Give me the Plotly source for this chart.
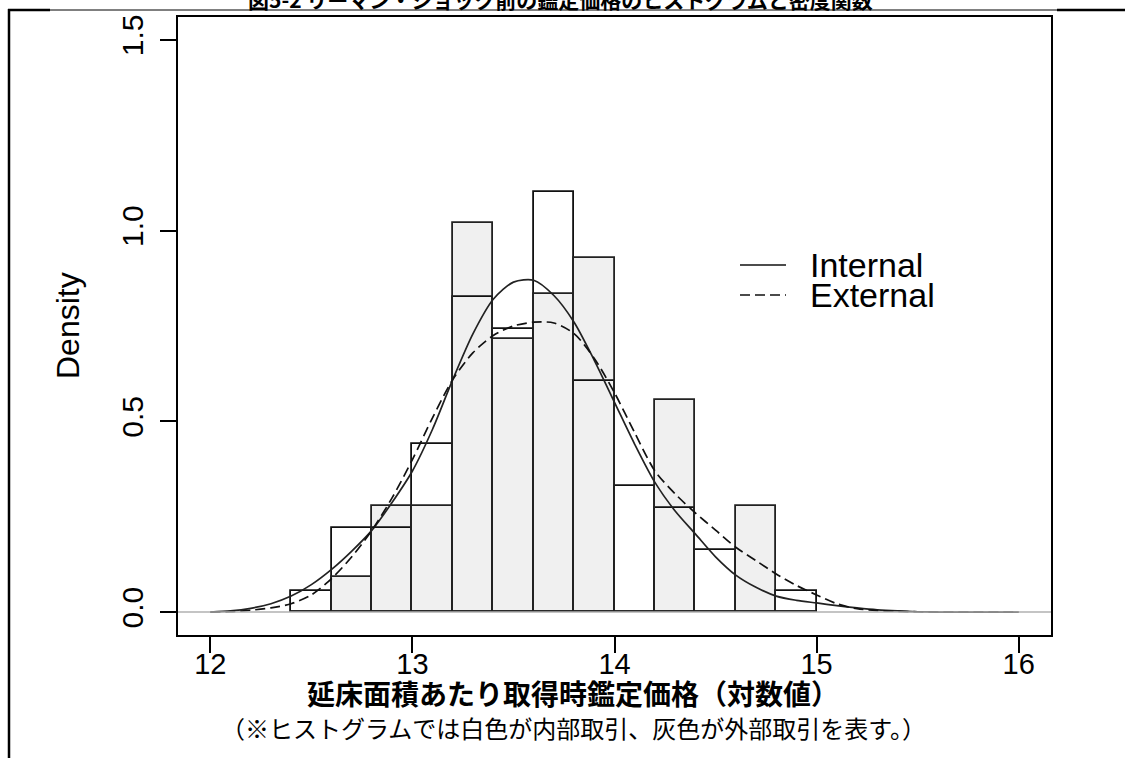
import plotly.graph_objects as go

# ---------------- data ----------------
bin_edges = [12.4, 12.6, 12.8, 13.0, 13.2, 13.4, 13.6, 13.8, 14.0, 14.2, 14.4, 14.6, 14.8, 15.0]
internal_density = [0.055, 0.220, 0.220, 0.441, 0.827, 0.742, 1.101, 0.606, 0.330, 0.274, 0.164, 0.0, 0.055]
external_density = [0.0, 0.091, 0.277, 0.277, 1.021, 0.716, 0.835, 0.928, 0.0, 0.556, 0.0, 0.277, 0.0]

curve_x = [12.0, 12.1, 12.2, 12.3, 12.4, 12.5, 12.6, 12.7, 12.8, 12.9,
           13.0, 13.1, 13.2, 13.3, 13.4, 13.5, 13.6, 13.7, 13.8, 13.9,
           14.0, 14.1, 14.2, 14.3, 14.4, 14.5, 14.6, 14.7, 14.8, 14.9,
           15.0, 15.1, 15.2, 15.3, 15.4, 15.5, 15.6, 15.7, 15.8, 15.9, 16.0]
internal_curve = [0.000, 0.003, 0.010, 0.022, 0.042, 0.072, 0.112, 0.160, 0.215, 0.288,
                  0.370, 0.480, 0.610, 0.730, 0.820, 0.865, 0.870, 0.830, 0.760, 0.660,
                  0.550, 0.440, 0.340, 0.265, 0.205, 0.145, 0.097, 0.065, 0.042, 0.031,
                  0.024, 0.017, 0.011, 0.006, 0.003, 0.001, 0.000, 0.000, 0.000, 0.000, 0.000]
external_curve = [0.000, 0.001, 0.005, 0.011, 0.022, 0.045, 0.088, 0.145, 0.215, 0.300,
                  0.400, 0.510, 0.610, 0.680, 0.725, 0.750, 0.760, 0.758, 0.730, 0.665,
                  0.575, 0.470, 0.370, 0.310, 0.260, 0.215, 0.170, 0.135, 0.100, 0.070,
                  0.045, 0.022, 0.009, 0.004, 0.002, 0.001, 0.000, 0.000, 0.000, 0.000, 0.000]

x_ticks = [12, 13, 14, 15, 16]
y_ticks = [0.0, 0.5, 1.0, 1.5]
y_tick_labels = ["0.0", "0.5", "1.0", "1.5"]
legend_labels = ["Internal", "External"]

title_text = "図5-2 リーマン・ショック前の鑑定価格のヒストグラムと密度関数"
xlab_text = "延床面積あたり取得時鑑定価格（対数値）"
note_text = "（※ヒストグラムでは白色が内部取引、灰色が外部取引を表す。）"

# ---------------- figure ----------------
centers = [(a + b) / 2 for a, b in zip(bin_edges[:-1], bin_edges[1:])]
widths = [b - a for a, b in zip(bin_edges[:-1], bin_edges[1:])]

W, H = 1125, 758
L, R, T, B = 178, 74, 17, 123
pw, ph = W - L - R, H - T - B


def px(x):
    return (x - L) / pw


def py(y):
    return (H - B - y) / ph


LAT = "Liberation Sans, Arial, sans-serif"
CJK = "Noto Sans CJK JP, sans-serif"

fig = go.Figure()
fig.add_trace(go.Bar(x=centers, y=internal_density, width=widths,
                     marker=dict(color="white", line=dict(color="#111111", width=1.8)),
                     showlegend=False, hoverinfo="skip"))
fig.add_trace(go.Bar(x=centers, y=external_density, width=widths,
                     marker=dict(color="rgba(0,0,0,0.058)", line=dict(color="#222222", width=1.8)),
                     showlegend=False, hoverinfo="skip"))
fig.add_trace(go.Scatter(x=curve_x, y=internal_curve, mode="lines",
                         line=dict(color="#222222", width=1.7, shape="spline", smoothing=0.8),
                         showlegend=False, hoverinfo="skip"))
fig.add_trace(go.Scatter(x=curve_x, y=external_curve, mode="lines",
                         line=dict(color="#111111", width=1.7, dash="10px,5px", shape="spline", smoothing=0.8),
                         showlegend=False, hoverinfo="skip"))

shapes = [
    # zero line
    dict(type="line", xref="paper", yref="y", x0=0, x1=1, y0=0, y1=0,
         line=dict(color="#b0b0b0", width=1.5), layer="above"),
    # outer frame pieces
    dict(type="line", xref="paper", yref="paper", x0=px(8), x1=px(50), y0=py(10), y1=py(10),
         line=dict(color="black", width=2.5)),
    dict(type="line", xref="paper", yref="paper", x0=px(50), x1=px(1057), y0=py(10), y1=py(10),
         line=dict(color="black", width=1)),
    dict(type="line", xref="paper", yref="paper", x0=px(1057), x1=px(1130), y0=py(10), y1=py(10),
         line=dict(color="black", width=2.5)),
    dict(type="line", xref="paper", yref="paper", x0=px(9), x1=px(9), y0=py(9), y1=py(770),
         line=dict(color="black", width=2.5)),
    # legend keys
    dict(type="line", xref="paper", yref="paper", x0=px(740), x1=px(786), y0=py(265), y1=py(265),
         line=dict(color="#111111", width=1.7)),
    dict(type="line", xref="paper", yref="paper", x0=px(740), x1=px(786), y0=py(295), y1=py(295),
         line=dict(color="#111111", width=1.7, dash="10px,5px")),
]

annotations = [
    dict(text=title_text, xref="paper", yref="paper", x=px(560), y=py(-1),
         xanchor="center", yanchor="middle", showarrow=False,
         font=dict(family=CJK, size=21, color="black", weight="bold")),
    dict(text=xlab_text, xref="paper", yref="paper", x=px(573), y=py(693),
         xanchor="center", yanchor="middle", showarrow=False,
         font=dict(family=CJK, size=28, color="black", weight="bold")),
    dict(text=note_text, xref="paper", yref="paper", x=px(573), y=py(727),
         xanchor="center", yanchor="middle", showarrow=False,
         font=dict(family=CJK, size=24, color="black")),
    dict(text="Density", xref="paper", yref="paper", x=px(68), y=0.5,
         xanchor="center", yanchor="middle", showarrow=False, textangle=-90,
         font=dict(family=LAT, size=32, color="black")),
    dict(text=legend_labels[0], xref="paper", yref="paper", x=px(808), y=py(265),
         xanchor="left", yanchor="middle", showarrow=False,
         font=dict(family=LAT, size=34, color="black")),
    dict(text=legend_labels[1], xref="paper", yref="paper", x=px(808), y=py(295),
         xanchor="left", yanchor="middle", showarrow=False,
         font=dict(family=LAT, size=34, color="black")),
]

fig.update_layout(
    width=W, height=H,
    margin=dict(l=L, r=R, t=T, b=B, pad=0),
    paper_bgcolor="white", plot_bgcolor="white",
    barmode="overlay", bargap=0,
    showlegend=False,
    shapes=shapes, annotations=annotations,
    font=dict(family=LAT, color="black"),
)
fig.update_xaxes(range=[11.84, 16.16], tickvals=x_ticks, ticktext=[str(v) for v in x_ticks],
                 ticks="outside", ticklen=16, tickwidth=2, tickcolor="black",
                 showline=True, linecolor="black", linewidth=2, mirror=True,
                 showgrid=False, zeroline=False, ticklabelstandoff=-14,
                 tickfont=dict(family=LAT, size=29, color="black"))
fig.update_yaxes(range=[-0.06, 1.56], tickvals=y_ticks, ticktext=y_tick_labels,
                 ticks="outside", ticklen=16, tickwidth=2, tickcolor="black",
                 showline=True, linecolor="black", linewidth=2, mirror=True,
                 showgrid=False, zeroline=False, tickangle=-90, ticklabelstandoff=5,
                 tickfont=dict(family=LAT, size=30, color="black"))

fig.write_html("out.html", config={"displayModeBar": False},
               post_script="document.body.style.margin='0';document.body.style.overflow='hidden';")
